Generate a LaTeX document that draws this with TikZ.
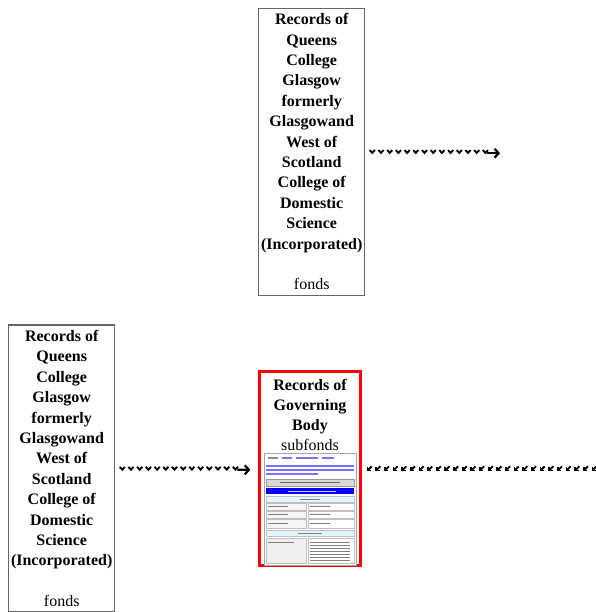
\documentclass[tikz,border=0pt]{standalone}
\usepackage{fontspec}
\setmainfont{Liberation Serif}
\usetikzlibrary{arrows.meta,decorations.markings,positioning}

\begin{document}
\begin{tikzpicture}[x=1pt, y=-1pt, thick,
  caja/.style={rectangle, draw=black!60, line width=1.2pt, align=center,
    font=\fontsize{16}{20.4}\selectfont\bfseries,
    minimum width=106pt, minimum height=287pt, inner xsep=0.5pt, inner ysep=0pt},
  rojo/.style={rectangle, draw=red, line width=3pt,
    minimum width=100.4pt, minimum height=193.7pt},
  titulo/.style={align=center, font=\fontsize{16}{20}\selectfont\bfseries, inner sep=0pt},
  xflecha/.style={decorate, decoration={markings,
    mark=between positions 7pt and -11pt-#1 step 8.7pt with
      {\draw[line width=1.9pt, line join=miter] (-2.6pt,1.6pt) -- (0,-1.2pt) -- (2.6pt,1.6pt);},
    mark=at position 1 with
      {\draw[line width=2.2pt, -{Straight Barb[length=4pt,width=9pt]}] (-13pt-#1,-1.5pt) -- (-#1,-1.5pt);}}},
  kflecha/.style={decorate, decoration={markings,
    mark=between positions 8pt and 1 step 8.65pt with
      {\draw[line width=1.8pt] (2pt,2pt) -- (-2pt,-2pt);
       \draw[line width=1.8pt, line join=miter] (-2.2pt,1.2pt) -- (-2.2pt,-2.2pt) -- (1.2pt,-2.2pt);}}},
  linea/.style={line width=1pt, black!50}]

\useasboundingbox (0,0) rectangle (595,612);

% Cajas fonds
\node[caja] (fondsTop) at (311.7,151.7) {Records of\\Queens\\College\\Glasgow\\formerly\\Glasgowand\\West of\\Scotland\\College of\\Domestic\\Science\\(Incorporated)\\[20.4pt]\mdseries fonds};
\node[caja] (fondsLow) at (61.7,468.5) {Records of\\Queens\\College\\Glasgow\\formerly\\Glasgowand\\West of\\Scotland\\College of\\Domestic\\Science\\(Incorporated)\\[20.4pt]\mdseries fonds};

% Caja subfonds
\node[rojo] (govBox) at (310,468.3) {};
\node[titulo] (govTitle) at (310,415) {Records of\\Governing\\Body\\\mdseries subfonds};

% Miniatura de la pagina
\draw[black!35, thin, fill=white] (264,453) rectangle (356,565);
\draw[line width=1.5pt, black!45] (268,458) -- (278,458);
\draw[line width=1.5pt, blue!55] (282,458) -- (292,458) (296,458) -- (318,458) (322,458) -- (334,458);
\draw[line width=1.2pt, blue!55] (266,466) -- (354,466) (266,470) -- (354,470) (266,474) -- (318,474);
\draw[black!40, thin, fill=black!15] (266,479) rectangle (354,486);
\draw[line width=1.2pt, black!60] (280,482.5) -- (340,482.5);
\fill[blue] (266,488) rectangle (354,494);
\draw[line width=1pt, blue!20] (288,491) -- (336,491);
\draw[black!25, thin, fill=cyan!12] (266,496) rectangle (354,502);
\draw[linea] (300,499) -- (320,499);
\foreach \ya/\yb in {503/510, 511/518, 519/528} {
  \draw[black!25, thin, fill=black!4] (266,\ya) rectangle (306,\yb);
  \draw[black!25, thin] (308,\ya) rectangle (354,\yb);
  \draw[linea] (268,{(\ya+\yb)/2}) -- (288,{(\ya+\yb)/2});
  \draw[linea] (310,{(\ya+\yb)/2}) -- (330,{(\ya+\yb)/2});
}
\draw[black!25, thin, fill=cyan!12] (266,530) rectangle (354,536);
\draw[linea] (298,533) -- (322,533);
\draw[black!25, thin, fill=black!6] (266,538) rectangle (306,563);
\draw[black!25, thin] (308,538) rectangle (354,563);
\draw[linea] (268,542) -- (294,542);
\foreach \yy in {542,545,...,560} \draw[line width=0.9pt, black!50] (310,\yy) -- (350,\yy);

% Puntos libres
\coordinate (topEnd) at (500,151.7);
\coordinate (rightEnd) at (600,468.3);

% Flechas
\path[xflecha=0pt] (fondsTop.east) -- (topEnd);
\path[xflecha=8pt] (fondsLow.east) -- (govBox.west);
\path[kflecha] (govBox.east) -- (rightEnd);

\end{tikzpicture}
\end{document}
